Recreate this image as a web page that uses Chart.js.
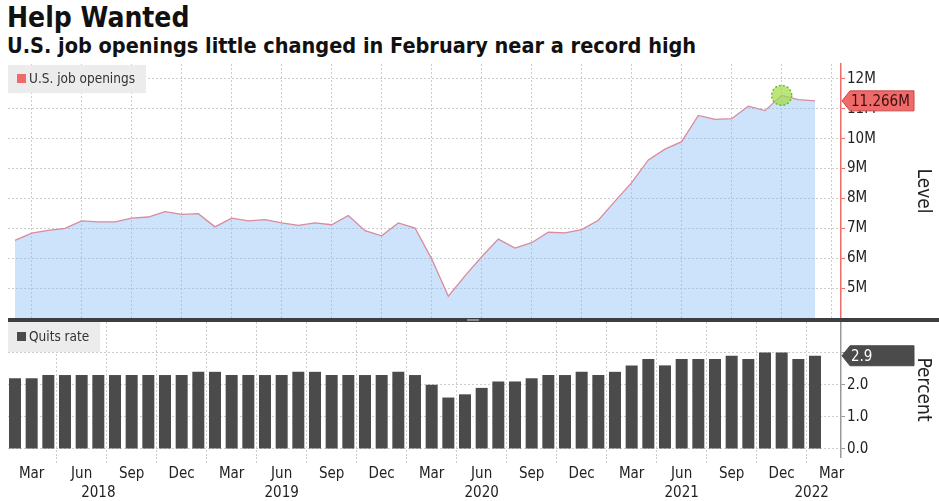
<!DOCTYPE html>
<html>
<head>
<meta charset="utf-8">
<script src="https://cdn.jsdelivr.net/npm/chart.js@4.4.1/dist/chart.umd.min.js"></script>
<style>
  body { margin: 0; background: #fff; font-family: 'DejaVu Sans Condensed', 'DejaVu Sans', sans-serif; }
  #wrap { position: relative; width: 939px; height: 501px; overflow: hidden; }
  h1 { position: absolute; left: 7px; top: 1px; margin: 0; font-size: 28px; font-weight: bold; color: #111; }
  h2 { position: absolute; left: 7px; top: 33px; margin: 0; font-size: 21.5px; font-weight: bold; color: #111; }
  #topChart { position: absolute; left: 0; top: 60px; }
  #bottomChart { position: absolute; left: 0; top: 318px; }
  #sep { position: absolute; left: 8px; top: 318px; width: 931px; height: 4px; background: #3b3e42; }
  #grip { position: absolute; left: 467px; top: 319px; width: 12px; height: 2px; background: #8a8d90; }
</style>
</head>
<body>
<div id="wrap">
  <h1>Help Wanted</h1>
  <h2>U.S. job openings little changed in February near a record high</h2>
  <canvas id="topChart" width="939" height="258"></canvas>
  <canvas id="bottomChart" width="939" height="183"></canvas>
  <div id="sep"></div>
  <div id="grip"></div>
</div>
<script>
const FONT = "'DejaVu Sans Condensed', 'DejaVu Sans', sans-serif";
Chart.defaults.font.family = FONT;
Chart.defaults.color = '#222';

// Meses: feb 2018 - feb 2022
const months = [
  '2018-02','2018-03','2018-04','2018-05','2018-06','2018-07','2018-08','2018-09','2018-10','2018-11','2018-12',
  '2019-01','2019-02','2019-03','2019-04','2019-05','2019-06','2019-07','2019-08','2019-09','2019-10','2019-11','2019-12',
  '2020-01','2020-02','2020-03','2020-04','2020-05','2020-06','2020-07','2020-08','2020-09','2020-10','2020-11','2020-12',
  '2021-01','2021-02','2021-03','2021-04','2021-05','2021-06','2021-07','2021-08','2021-09','2021-10','2021-11','2021-12',
  '2022-01','2022-02'
];

// Vacantes (millones)
const openings = [
  6.60, 6.84, 6.93, 7.00, 7.25, 7.22, 7.22, 7.34, 7.38, 7.56, 7.47,
  7.49, 7.05, 7.34, 7.25, 7.29, 7.18, 7.10, 7.18, 7.12, 7.43, 6.92, 6.75,
  7.18, 7.01, 5.98, 4.73, 5.41, 6.05, 6.64, 6.34, 6.52, 6.87, 6.85, 6.96,
  7.27, 7.91, 8.53, 9.29, 9.65, 9.90, 10.78, 10.65, 10.67, 11.09, 10.94, 11.45,
  11.31, 11.266
];

// Tasa de renuncias (%)
const quits = [
  2.2, 2.2, 2.3, 2.3, 2.3, 2.3, 2.3, 2.3, 2.3, 2.3, 2.3,
  2.4, 2.4, 2.3, 2.3, 2.3, 2.3, 2.4, 2.4, 2.3, 2.3, 2.3, 2.3,
  2.4, 2.3, 2.0, 1.6, 1.7, 1.9, 2.1, 2.1, 2.2, 2.3, 2.3, 2.4,
  2.3, 2.4, 2.6, 2.8, 2.6, 2.8, 2.8, 2.8, 2.9, 2.8, 3.0, 3.0,
  2.8, 2.9
];

// Eje X: posiciones (índice de mes) y etiquetas
const tickIdx = [1, 4, 7, 10, 13, 16, 19, 22, 25, 28, 31, 34, 37, 40, 43, 46, 49];
const tickLabels = ['Mar','Jun','Sep','Dec','Mar','Jun','Sep','Dec','Mar','Jun','Sep','Dec','Mar','Jun','Sep','Dec','Mar'];
const yearLabels = ['2018', '2019', '2020', '2021', '2022'];
const yearPos = [5.0, 16, 28, 40, 47.8];

const highlightIdx = 46; // máximo récord

const colors = {
  fill: 'rgba(130, 185, 245, 0.4)', // sobre blanco queda azul claro y deja ver la cuadrícula
  line: '#d98a9c',
  red: '#f06a6a',
  redDark: '#c94848',
  bar: '#4b4b4b',
  grid: '#cdcdcd',
  legendBg: '#ececec'
};

function xAxis(showLabels) {
  return {
    type: 'linear',
    offset: false,
    min: -0.42,
    max: 49.56,
    afterBuildTicks: s => { s.ticks = tickIdx.map(v => ({ value: v })); },
    ticks: {
      display: showLabels,
      autoSkip: false,
      maxRotation: 0,
      padding: 2,
      font: { size: 15 },
      color: '#222',
      callback: (v, i) => tickLabels[i]
    },
    grid: {
      color: colors.grid,
      drawTicks: showLabels,
      tickLength: 6,
      tickColor: colors.grid,
      tickBorderDash: [2, 2]
    },
    border: { display: false, dash: [2, 2] },
    afterFit: s => {
      s.height = showLabels ? 44 : 0;
      s.paddingLeft = 0; s.paddingRight = 0;
    }
  };
}

// Caja de leyenda gris dentro del área
const boxLegend = {
  id: 'boxLegend',
  beforeDatasetsDraw(chart, args, o) {
    const { ctx, chartArea } = chart;
    const ds = chart.data.datasets[0];
    const x = chartArea.left, y = chartArea.top + o.dy;
    ctx.save();
    ctx.font = '13.5px ' + FONT;
    const w = ctx.measureText(ds.label).width;
    ctx.fillStyle = colors.legendBg;
    ctx.fillRect(x, y, w + 32, o.h);
    ctx.fillStyle = o.swatch;
    ctx.fillRect(x + 9, y + o.h / 2 - 5, 9, 9);
    ctx.fillStyle = '#333';
    ctx.textBaseline = 'middle';
    ctx.fillText(ds.label, x + 21, y + o.h / 2);
    ctx.restore();
  }
};

// Etiqueta del último valor en el eje derecho
const valueTag = {
  id: 'valueTag',
  afterDraw(chart, args, o) {
    const { ctx } = chart;
    const ys = chart.scales.y;
    const y = ys.getPixelForValue(o.value);
    const x0 = ys.left + 1;
    ctx.save();
    ctx.beginPath();
    ctx.moveTo(x0, y);
    ctx.lineTo(x0 + 8, y - 10);
    ctx.lineTo(x0 + 72, y - 10);
    ctx.lineTo(x0 + 72, y + 10);
    ctx.lineTo(x0 + 8, y + 10);
    ctx.closePath();
    ctx.fillStyle = o.fill;
    ctx.fill();
    ctx.lineWidth = 1;
    ctx.strokeStyle = o.stroke;
    ctx.stroke();
    ctx.fillStyle = o.textColor;
    ctx.font = '15px ' + FONT;
    ctx.textBaseline = 'middle';
    ctx.fillText(o.text, x0 + 9, y + 1);
    ctx.restore();
  }
};

// Círculo verde en el máximo
const highlight = {
  id: 'highlight',
  afterDatasetsDraw(chart) {
    const { ctx } = chart;
    const x = chart.scales.x.getPixelForValue(highlightIdx);
    const y = chart.scales.y.getPixelForValue(openings[highlightIdx]);
    ctx.save();
    ctx.beginPath();
    ctx.arc(x, y, 10, 0, Math.PI * 2);
    ctx.fillStyle = 'rgba(160, 220, 70, 0.7)';
    ctx.fill();
    ctx.setLineDash([2, 2]);
    ctx.lineWidth = 1.5;
    ctx.strokeStyle = '#72b82e';
    ctx.stroke();
    ctx.restore();
  }
};

// Años bajo las etiquetas de mes
const yearRow = {
  id: 'yearRow',
  afterDraw(chart) {
    const { ctx } = chart;
    const xs = chart.scales.x;
    ctx.save();
    ctx.font = '15px ' + FONT;
    ctx.fillStyle = '#222';
    ctx.textAlign = 'center';
    ctx.textBaseline = 'middle';
    yearLabels.forEach((t, i) => ctx.fillText(t, xs.getPixelForValue(yearPos[i]), 493 - 318));
    ctx.restore();
  }
};

function noPad(s) {
  s.width = 98;
  s.paddingTop = 0; s.paddingBottom = 0;
}

// =========================================
// Panel superior: vacantes (área)
// =========================================
new Chart(document.getElementById('topChart'), {
  type: 'line',
  data: {
    datasets: [{
      label: 'U.S. job openings',
      data: openings.map((v, i) => ({ x: i, y: v })),
      borderColor: colors.line,
      borderWidth: 1.3,
      backgroundColor: colors.fill,
      fill: 'start',
      pointRadius: 0,
      tension: 0
    }]
  },
  options: {
    responsive: false,
    animation: false,
    layout: { padding: { left: 8, top: 4, right: 0, bottom: 0 } },
    plugins: {
      legend: { display: false },
      tooltip: { enabled: false },
      boxLegend: { dy: 1, h: 28, swatch: colors.red },
      valueTag: {
        value: openings[openings.length - 1],
        text: openings[openings.length - 1].toFixed(3) + 'M',
        fill: colors.red, stroke: colors.redDark, textColor: '#3a1010'
      }
    },
    scales: {
      x: xAxis(false),
      y: {
        position: 'right',
        min: 4,
        max: 12.5,
        ticks: {
          stepSize: 0.5,
          includeBounds: false,
          padding: 2,
          font: { size: 15 },
          color: '#222',
          callback: v => (Number.isInteger(v) && v >= 5) ? v + 'M' : ''
        },
        grid: {
          color: c => Number.isInteger(c.tick.value) ? colors.grid : 'transparent',
          tickColor: colors.red,
          tickLength: 4
        },
        border: { color: colors.red, width: 1.5, dash: [2, 2] },
        title: { display: true, text: 'Level', font: { size: 19 }, color: '#222', padding: { top: 5, bottom: 0 } },
        afterFit: noPad
      }
    }
  },
  plugins: [boxLegend, valueTag, highlight]
});

// =========================================
// Panel inferior: tasa de renuncias (barras)
// =========================================
new Chart(document.getElementById('bottomChart'), {
  type: 'bar',
  data: {
    datasets: [{
      label: 'Quits rate',
      data: quits.map((v, i) => ({ x: i, y: v })),
      backgroundColor: colors.bar,
      barPercentage: 0.72,
      categoryPercentage: 1
    }]
  },
  options: {
    responsive: false,
    animation: false,
    layout: { padding: { left: 8, top: 4, right: 0, bottom: 0 } },
    plugins: {
      legend: { display: false },
      tooltip: { enabled: false },
      boxLegend: { dy: 0, h: 30, swatch: colors.bar },
      valueTag: {
        value: quits[quits.length - 1],
        text: quits[quits.length - 1].toFixed(1),
        fill: colors.bar, stroke: colors.bar, textColor: '#fff'
      }
    },
    scales: {
      x: xAxis(true),
      y: {
        position: 'right',
        min: -0.25,
        max: 3.95,
        ticks: {
          stepSize: 1,
          includeBounds: false,
          padding: 2,
          font: { size: 15 },
          color: '#222',
          // la etiqueta 3.0 queda tapada por la del último valor
          callback: v => v >= 3 ? '' : v.toFixed(1)
        },
        grid: { color: colors.grid, tickColor: '#999', tickLength: 4 },
        border: { color: '#999', width: 1.5, dash: [2, 2] },
        title: { display: true, text: 'Percent', font: { size: 19 }, color: '#222', padding: { top: 5, bottom: 0 } },
        afterFit: noPad
      }
    }
  },
  plugins: [boxLegend, valueTag, yearRow]
});
</script>
</body>
</html>
